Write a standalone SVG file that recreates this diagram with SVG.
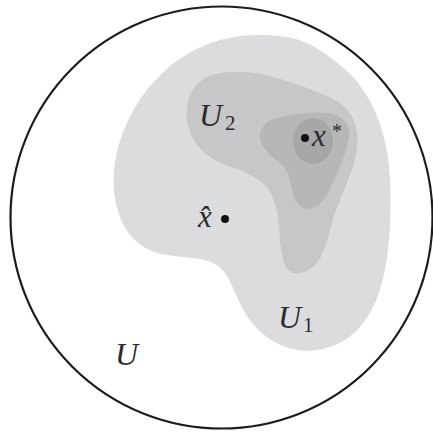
<svg xmlns="http://www.w3.org/2000/svg" width="433" height="437" viewBox="0 0 433 437">
<style>
.lbl{font-family:"Liberation Serif","DejaVu Serif",serif;font-style:italic;fill:#2a2a2a;}
.sub{font-family:"Liberation Serif","DejaVu Serif",serif;fill:#2a2a2a;}
.dot{fill:#111;}
</style>
<rect width="433" height="437" fill="#ffffff"/>
<g id="universe">
<circle cx="221.5" cy="217.5" r="211" fill="none" stroke="#1c1c1c" stroke-width="2.2"/>
</g>
<g id="U1">
<path fill="#dcdcde" d="M 280,36 Q 300,38 316.5,48 Q 333,58 347.5,71.5 Q 362,85 371.5,104 Q 381,123 385.5,144 Q 390,165 390.5,191 Q 391,217 389,240 Q 387,263 382,282.5 Q 377,302 367.5,317 Q 358,332 344,340.5 Q 330,349 314,350.5 Q 298,352 283,346 Q 268,340 257.5,329 Q 247,318 241,305.5 Q 235,293 230.5,282.5 Q 226,272 218,266 Q 210,260 196.5,258.5 Q 183,257 166.5,255 Q 150,253 137.5,242.5 Q 125,232 119,214.5 Q 113,197 113.5,178.5 Q 114,160 120,141 Q 126,122 137,104 Q 148,86 165,70.5 Q 182,55 202,46.5 Q 222,38 241,36 Q 260,34 280,36 Z"/>
</g>
<g id="U2">
<path fill="#c7c7c9" d="M 230,72 Q 250,71 267.5,75.5 Q 285,80 301.5,86 Q 318,92 331.5,98 Q 345,104 351.5,116 Q 358,128 357.5,142.5 Q 357,157 350.5,173.5 Q 344,190 338.5,203.5 Q 333,217 330,230 Q 327,243 322.5,253.5 Q 318,264 309,269.5 Q 300,275 292.5,272.5 Q 285,270 282.5,257.5 Q 280,245 279,227.5 Q 278,210 273,197.5 Q 268,185 256,178 Q 244,171 228.5,166 Q 213,161 203,151.5 Q 193,142 189,129.5 Q 185,117 187.5,103.5 Q 190,90 200,81.5 Q 210,73 230,72 Z"/>
</g>
<g id="U3">
<path fill="#b7b7b9" d="M 278.5,117.5 Q 290,115 305,113.5 Q 320,112 331.5,114 Q 343,116 347,124.5 Q 351,133 347.5,145 Q 344,157 338.5,170 Q 333,183 328,193 Q 323,203 315.5,207 Q 308,211 301.5,207 Q 295,203 293,194 Q 291,185 289,176.5 Q 287,168 277.5,161 Q 268,154 262.5,145.5 Q 257,137 262,128.5 Q 267,120 278.5,117.5 Z"/>
</g>
<g id="U4">
<ellipse cx="313" cy="141" rx="20" ry="23" fill="#a7a7a9"/>
</g>
<g id="labels">
<text class="lbl" x="199" y="126" font-size="32">U</text>
<text class="sub" x="225" y="130" font-size="21">2</text>
<text class="lbl" x="278" y="328" font-size="32">U</text>
<text class="sub" x="303" y="332" font-size="21">1</text>
<text class="lbl" x="115" y="365" font-size="32">U</text>
<text class="lbl" x="312" y="146" font-size="31">x</text>
<text class="sub" x="332" y="138" font-size="20">*</text>
<text class="lbl" x="198" y="227" font-size="31">x̂</text>
</g>
<g id="points">
<circle class="dot" cx="305" cy="138" r="4"/>
<circle class="dot" cx="225" cy="219" r="4"/>
</g>
</svg>
